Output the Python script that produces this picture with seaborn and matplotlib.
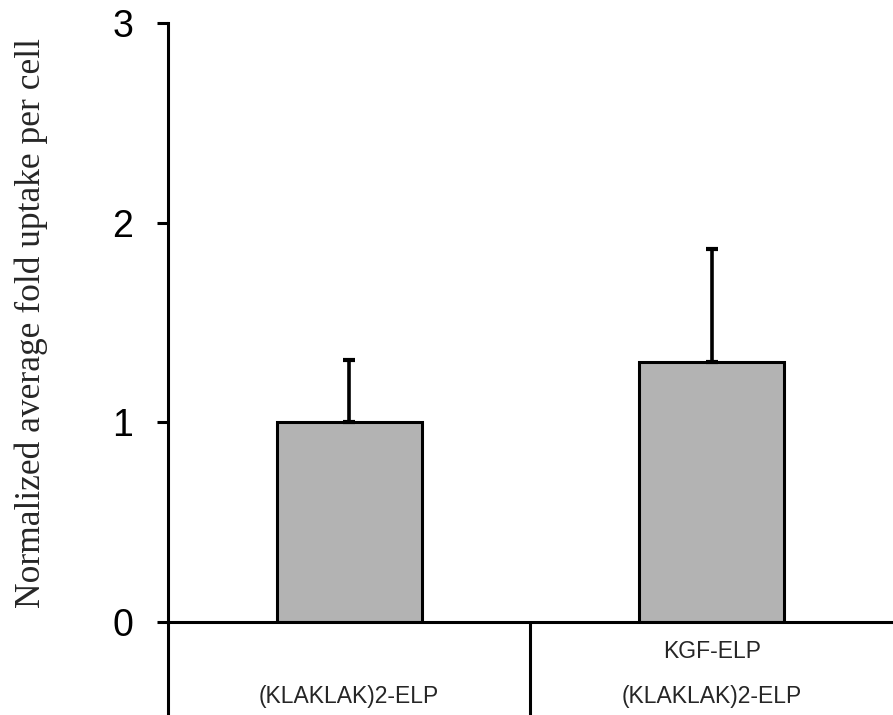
import matplotlib
matplotlib.use("Agg")
import matplotlib.pyplot as plt
import seaborn as sns
import pandas as pd

# Data
categories = ["(KLAKLAK)2-ELP", "KGF-ELP (KLAKLAK)2-ELP"]
label_top = ["", "KGF-ELP"]
label_bottom = ["(KLAKLAK)2-ELP", "(KLAKLAK)2-ELP"]
fold_uptake = [1.0, 1.30]
error_upper = [0.31, 0.57]
y_ticks = [0, 1, 2, 3]

sns.set_style("white")
plt.rcParams["font.family"] = ["Liberation Sans", "DejaVu Sans"]

fig = plt.figure(figsize=(8.93, 7.15), dpi=100)
ax = fig.add_axes([0.1881, 0.1301, 0.8119, 0.8377])

df = pd.DataFrame({"group": categories, "value": fold_uptake})
sns.barplot(data=df, x="group", y="value", color="#b3b3b3", saturation=1,
            width=0.4, edgecolor="black", linewidth=2.2, errorbar=None, ax=ax)

# upper-only error bars
ax.errorbar(range(len(categories)), fold_uptake,
            yerr=[[0] * len(error_upper), error_upper],
            fmt="none", ecolor="black", elinewidth=2.6, capsize=4.5,
            capthick=3, zorder=3)

ax.set_xlim(-0.5, len(categories) - 0.5)
ax.set_ylim(0, 3)
ax.set_yticks(y_ticks)
ax.set_yticklabels([str(t) for t in y_ticks], fontsize=27)
ax.tick_params(axis="y", direction="out", length=8, width=2.2, pad=17,
               left=True, colors="black")
ax.tick_params(axis="x", bottom=False, labelbottom=False)
ax.set_xlabel("")

for side in ["top", "right"]:
    ax.spines[side].set_visible(False)
for side in ["left", "bottom"]:
    ax.spines[side].set_linewidth(2.2)
    ax.spines[side].set_color("black")

ax.set_ylabel("Normalized average fold uptake per cell",
              fontfamily=["Liberation Serif", "DejaVu Serif"], fontsize=25.5)
ax.yaxis.set_label_coords(-0.166, 0.5)

# category labels and separators below the axis
trans = ax.get_xaxis_transform()
for i in range(len(categories)):
    if label_top[i]:
        ax.text(i, -0.050, label_top[i], transform=trans, ha="center",
                va="center", fontsize=16.5)
    ax.text(i, -0.125, label_bottom[i], transform=trans, ha="center",
            va="center", fontsize=16.5)
for xs in [i - 0.5 for i in range(len(categories))]:
    ax.plot([xs, xs], [0, -0.2], transform=trans, color="black",
            linewidth=2.2, clip_on=False, solid_capstyle="butt")

fig.savefig("out.png", dpi=100, facecolor="white")
